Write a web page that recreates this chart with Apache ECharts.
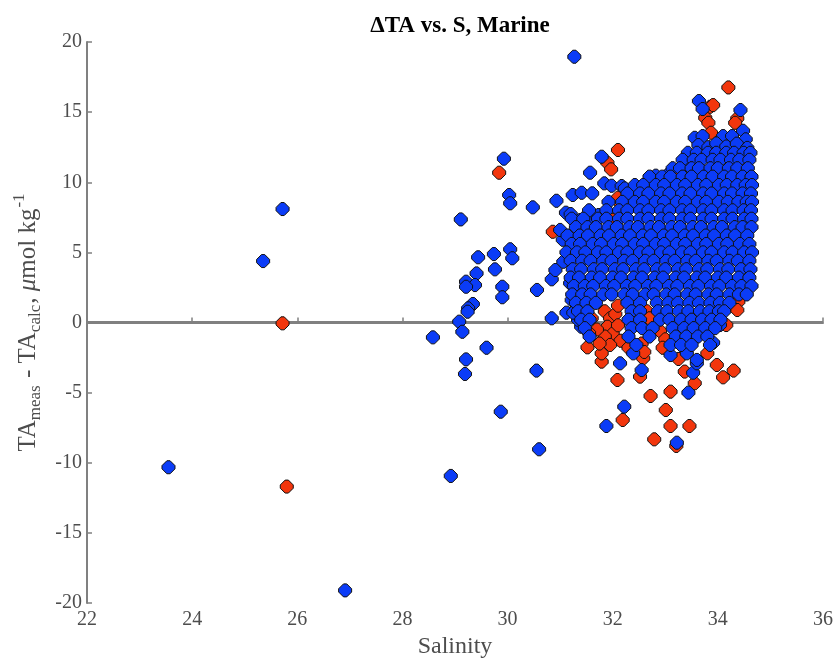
<!DOCTYPE html>
<html>
<head>
<meta charset="utf-8">
<script src="https://cdn.jsdelivr.net/npm/echarts@6/dist/echarts.min.js"></script>
<style>html,body{margin:0;padding:0;background:#fff}#c{width:838px;height:659px}</style>
</head>
<body>
<div id="c"></div>
<script>
// Axis ticks
const xTicks = [22, 24, 26, 28, 30, 32, 34, 36];
const yTicks = [-20, -15, -10, -5, 0, 5, 10, 15, 20];
const zeroLine = [[22, 0], [36, 0]];

// Blue points outside the dense cluster: [salinity, deltaTA]
const blueScattered = [
  [23.55,-10.32],[25.35,4.38],[25.72,8.09],[26.91,-19.1],[28.58,-1.06],[28.92,-10.94],
  [29.11,7.35],[29.44,4.65],[29.41,3.5],[29.21,2.91],[29.38,2.67],[29.21,2.55],[29.34,1.32],
  [29.25,1.01],[29.24,0.77],[29.08,0.06],[29.14,-0.66],[29.6,-1.8],[29.21,-2.63],[29.19,-3.67],
  [29.74,4.88],[29.76,3.79],[29.9,2.55],[29.9,1.8],[30.05,5.22],[30.09,4.58],[29.93,11.68],
  [30.03,9.09],[30.05,8.5],[30.48,8.21],[30.93,8.68],[30.56,2.32],[30.84,3.08],[30.91,3.74],
  [30.84,0.3],[30.55,-3.43],[29.87,-6.36],[30.6,-9.04],[31.27,18.95],[31.24,9.09],[31.41,9.25],
  [31.61,9.21],[31.11,7.83],[31.2,7.73],[31.38,7.3],[31.57,7.18],[31.73,7.66],[31.79,11.82],
  [31.57,10.68],[31.84,9.92],[31.98,9.75],[32.17,9.73],[32.23,9.56],[32.55,8.68],[32.32,8.3],
  [32.82,10.47],[33.06,10.58],[33.41,11.35],[33.64,15.79],[33.71,15.22],[34.43,15.15],
  [33.56,13.17],[33.71,13.29],[34.1,13.29],[34.27,13.29],[34.48,13.67],[34.53,13.06],
  [33.63,12.65],[33.82,12.5],[33.97,12.77],[34.16,12.55],[34.36,12.75],[34.56,12.45],
  [31.06,4.33],[31.05,5.9],[31.22,1.6],[31.19,2.8],[31.0,6.6],[31.12,0.7],
  [32.22,-6.0],[31.88,-7.38],[33.22,-8.57],[32.55,-3.39],[33.44,-5.0],[33.53,-3.58],
  [33.6,-2.91],[32.14,-2.91],[33.1,-2.32],[33.41,-2.2],[33.91,-1.44],[32.39,-2.2],
  [33.6,-2.67],[34.04,-0.18],[34.13,1.13],[31.4,-0.3],[31.34,0.2],[31.25,0.7]
];

// Dense blue cluster, read row by row: [deltaTA, [salinity values]]
const blueClusterRows = [
  [12.1, [33.43,33.6,33.81,33.97,34.16,34.31,34.49,34.62]],
  [11.6, [33.33,33.54,33.69,33.9,34.05,34.25,34.41,34.6]],
  [11.0, [33.14,33.28,33.5,33.64,33.86,34.0,34.21,34.37,34.57]],
  [10.4, [32.7,32.94,33.1,33.33,33.5,33.73,33.9,34.12,34.27,34.47,34.64]],
  [9.8,  [32.42,32.58,32.82,32.98,33.22,33.38,33.62,33.78,34.02,34.17,34.37,34.53,34.65]],
  [9.2,  [32.28,32.52,32.68,32.92,33.08,33.32,33.48,33.72,33.88,34.12,34.27,34.47,34.63]],
  [8.6,  [31.92,32.18,32.42,32.58,32.82,32.98,33.22,33.38,33.62,33.78,34.02,34.19,34.39,34.55,34.65]],
  [8.0,  [31.55,31.88,32.12,32.28,32.52,32.68,32.92,33.08,33.32,33.48,33.72,33.88,34.12,34.28,34.49,34.63]],
  [7.4,  [31.22,31.44,31.72,31.88,32.12,32.28,32.52,32.68,32.92,33.08,33.32,33.48,33.72,33.88,34.12,34.28,34.5,34.64]],
  [6.8,  [31.3,31.52,31.68,31.92,32.08,32.32,32.48,32.72,32.88,33.12,33.28,33.52,33.68,33.92,34.08,34.32,34.47,34.64]],
  [6.2,  [31.14,31.37,31.53,31.77,31.93,32.17,32.33,32.57,32.73,32.97,33.13,33.37,33.53,33.77,33.93,34.17,34.33,34.56]],
  [5.6,  [31.22,31.38,31.62,31.78,32.02,32.18,32.42,32.58,32.82,32.98,33.22,33.38,33.62,33.78,34.02,34.18,34.42,34.6]],
  [5.0,  [31.12,31.32,31.48,31.72,31.88,32.12,32.28,32.52,32.68,32.92,33.08,33.32,33.48,33.72,33.88,34.12,34.28,34.5,34.65]],
  [4.4,  [31.2,31.42,31.58,31.82,31.98,32.22,32.38,32.62,32.78,33.02,33.18,33.42,33.58,33.82,33.98,34.22,34.38,34.6]],
  [3.8,  [31.24,31.4,31.64,31.8,32.04,32.2,32.44,32.6,32.84,33.0,33.24,33.4,33.64,33.8,34.04,34.2,34.44,34.62]],
  [3.2,  [31.2,31.36,31.6,31.76,32.0,32.16,32.4,32.56,32.8,32.96,33.2,33.36,33.6,33.76,34.0,34.16,34.4,34.6]],
  [2.6,  [31.26,31.47,31.63,31.87,32.03,32.27,32.43,32.67,32.83,33.07,33.23,33.47,33.63,33.87,34.03,34.27,34.45,34.64]],
  [2.0,  [31.23,31.42,31.58,31.82,31.98,32.22,32.38,32.62,32.78,33.02,33.18,33.42,33.58,33.82,33.98,34.22,34.4,34.55]],
  [1.4,  [31.3,31.5,31.68,32.28,32.52,32.84,33.06,33.24,33.46,33.64,33.86,34.04,34.22]],
  [0.8,  [31.34,31.52,32.36,32.52,32.86,33.04,33.26,33.44,33.66,33.84,34.02,34.12]],
  [0.2,  [31.4,31.56,32.3,32.52,32.9,33.08,33.3,33.5,33.7,33.88,34.05]],
  [-0.4, [31.47,32.36,32.56,32.76,33.14,33.36,33.54,33.76,33.95]],
  [-1.0, [31.56,32.3,32.7,33.2,33.4,33.62,33.8]],
  [-1.6, [32.45,33.1,33.3,33.5,33.85]]
];

// Red points: [salinity, deltaTA]
const redPoints = [
  [25.72,-0.06],[25.80,-11.7],[29.84,10.68],[30.86,6.47],[32.1,12.3],[31.9,11.39],[31.97,10.92],
  [34.2,16.76],[33.85,15.38],[33.91,15.5],[34.37,14.55],[34.33,14.24],[33.76,14.6],[33.82,14.24],
  [33.87,13.53],[33.22,10.68],[33.31,10.99],[33.03,10.04],[32.0,7.3],[32.15,8.5],[32.85,8.85],
  [32.1,8.9],[32.2,6.47],
  [31.52,-1.77],[31.79,-2.79],[31.79,-2.2],[32.09,-4.1],[32.52,-3.86],[32.58,-2.55],[32.72,-5.24],
  [32.19,-6.95],[32.79,-8.33],[33.21,-8.8],[33.01,-6.24],[33.1,-4.93],[33.1,-7.38],[33.46,-7.38],
  [33.56,-4.33],[33.37,-3.5],[33.98,-3.03],[34.1,-3.91],[34.3,-3.43],[34.16,-0.18],[34.39,1.48],
  [34.37,0.89],
  [31.85,0.8],[31.95,0.3],[32.05,0.6],[31.9,-0.3],[32.0,-0.8],[32.1,-0.2],[31.85,-1.0],[32.15,-1.3],
  [31.95,-1.6],[32.65,0.8],[32.7,0.3],[32.9,-0.6],[33.0,-1.2],[32.95,-1.8],[32.55,-1.5],[32.6,-2.1],
  [31.7,-0.5],[31.6,0.3],[32.3,-1.8],[31.75,-1.5],[33.25,-2.6],[33.8,-2.2],[31.55,-0.75],[32.1,1.2]
];

const bluePoints = blueScattered.slice();
blueClusterRows.forEach(function (row) {
  row[1].forEach(function (x) { bluePoints.push([x, row[0]]); });
});

const serif = "'Liberation Serif', 'DejaVu Serif', serif";
const axisGray = '#808080';
const textGray = '#4d4d4d';
const marker = 'path://M4.5,0 L7.5,0 L12,4.5 L12,7.5 L7.5,12 L4.5,12 L0,7.5 L0,4.5 Z';

const chart = echarts.init(document.getElementById('c'), null, {renderer: 'canvas'});
chart.setOption({
  animation: false,
  backgroundColor: '#ffffff',
  title: {
    text: 'ΔTA vs. S, Marine',
    left: 455, textAlign: 'center', top: 10,
    textStyle: {fontFamily: serif, fontWeight: 'bold', fontSize: 23, color: '#000'}
  },
  grid: {left: 87, right: 15, top: 42, bottom: 56, containLabel: false, outerBoundsMode: 'none'},
  xAxis: {
    type: 'value', min: xTicks[0], max: xTicks[xTicks.length - 1], interval: 2,
    name: 'Salinity', nameLocation: 'middle', nameGap: 30,
    nameTextStyle: {fontFamily: serif, fontSize: 24, color: textGray},
    axisLine: {show: true, lineStyle: {color: axisGray, width: 2}},
    axisTick: {show: true, inside: true, length: 5, lineStyle: {color: axisGray, width: 1.5}},
    axisLabel: {fontFamily: serif, fontSize: 20, color: textGray, margin: 7},
    splitLine: {show: false}
  },
  yAxis: {
    type: 'value', min: yTicks[0], max: yTicks[yTicks.length - 1], interval: 5,
    name: '{n|TA}{s|meas}{n| - TA}{s|calc}{n|, }{i|μ}{n|mol kg}{p|-1}',
    nameLocation: 'middle', nameGap: 38, nameRotate: 90,
    nameTextStyle: {
      fontFamily: serif, fontSize: 25, color: textGray,
      rich: {
        n: {fontFamily: serif, fontSize: 25, color: textGray, lineHeight: 31, verticalAlign: 'middle'},
        i: {fontFamily: serif, fontSize: 25, color: textGray, fontStyle: 'italic', lineHeight: 31, verticalAlign: 'middle'},
        s: {fontFamily: serif, fontSize: 17, color: textGray, lineHeight: 17, padding: [16, 1, 0, 0], verticalAlign: 'middle'},
        p: {fontFamily: serif, fontSize: 17, color: textGray, lineHeight: 17, padding: [0, 0, 16, 1], verticalAlign: 'middle'}
      }
    },
    axisLine: {show: true, lineStyle: {color: axisGray, width: 2}},
    axisTick: {show: true, inside: true, length: 5, lineStyle: {color: axisGray, width: 1.5}},
    axisLabel: {fontFamily: serif, fontSize: 20, color: textGray, margin: 5},
    splitLine: {show: false}
  },
  series: [
    {
      type: 'line', name: 'zero', data: zeroLine, symbol: 'none', silent: true,
      lineStyle: {color: axisGray, width: 3}, z: 1
    },
    {
      type: 'scatter', name: 'red', data: redPoints, symbol: marker, symbolSize: 13,
      itemStyle: {color: '#f2360d', borderColor: '#111', borderWidth: 1, opacity: 1},
      z: 2
    },
    {
      type: 'scatter', name: 'blue', data: bluePoints, symbol: marker, symbolSize: 13,
      itemStyle: {color: '#0b3cf7', borderColor: '#111', borderWidth: 1, opacity: 1},
      z: 3
    }
  ]
});
</script>
</body>
</html>
